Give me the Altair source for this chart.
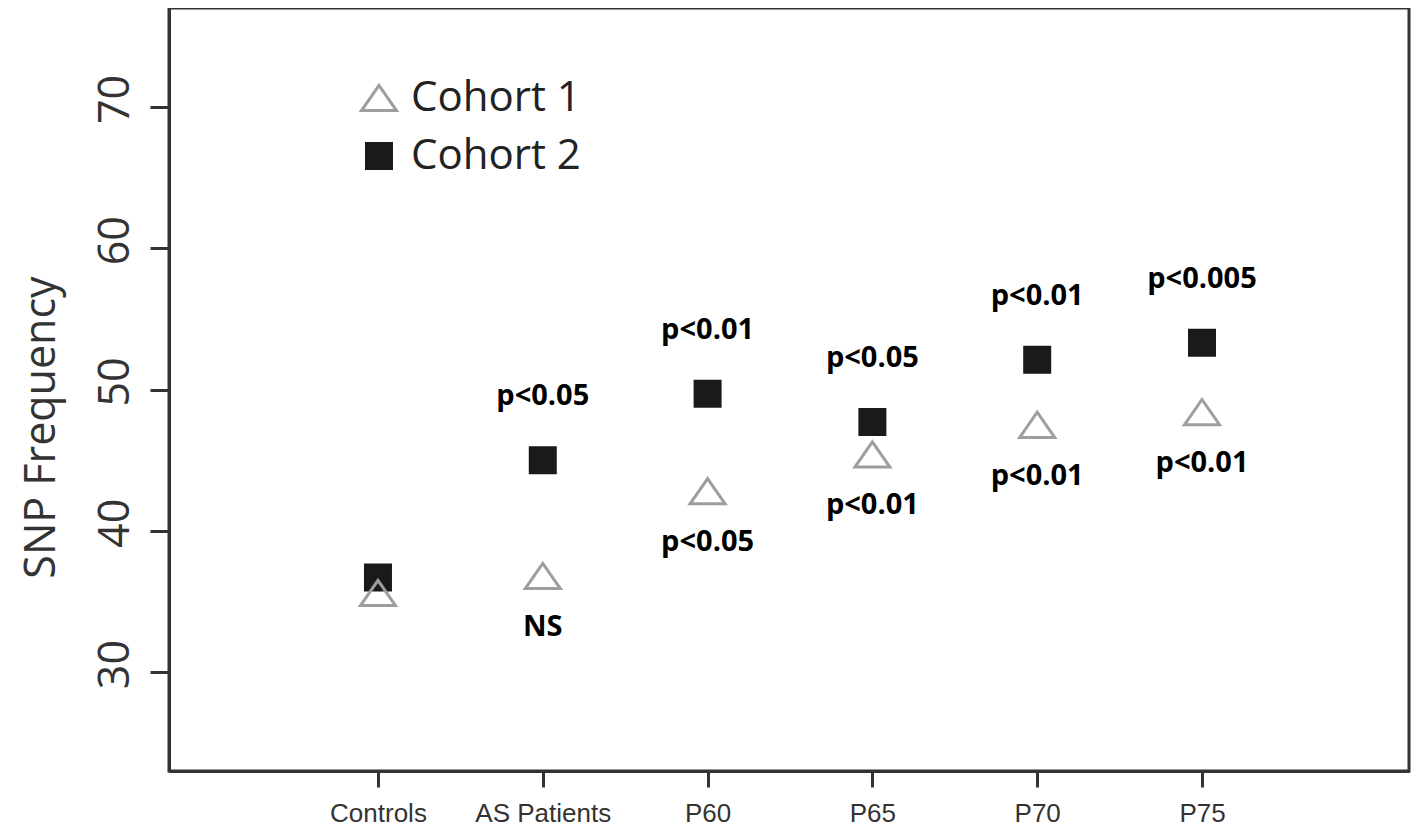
import json
import altair as alt
import pandas as pd

categories = ["Controls", "AS Patients", "P60", "P65", "P70", "P75"]
cohort1 = [35.6, 36.8, 42.8, 45.4, 47.5, 48.4]
cohort2 = [36.7, 45.0, 49.7, 47.7, 52.1, 53.3]
sig1 = ["", "NS", "p<0.05", "p<0.01", "p<0.01", "p<0.01"]
sig2 = ["", "p<0.05", "p<0.01", "p<0.05", "p<0.01", "p<0.005"]
y_ticks = [30, 40, 50, 60, 70]
series = ["Cohort 1", "Cohort 2"]

rows = []
for i, c in enumerate(categories):
    rows.append({"idx": i, "cat": c, "cohort": "Cohort 2", "value": cohort2[i], "sig": sig2[i]})
for i, c in enumerate(categories):
    rows.append({"idx": i, "cat": c, "cohort": "Cohort 1", "value": cohort1[i], "sig": sig1[i]})
df = pd.DataFrame(rows)

tri = "M0,-0.72L-1,0.72L1,0.72Z"
label_expr = json.dumps(categories) + "[datum.value]"

xenc = alt.X(
    "idx:Q",
    scale=alt.Scale(domain=[-1.268, 6.256], nice=False, zero=False),
    axis=alt.Axis(values=list(range(len(categories))), labelExpr=label_expr, title=None, grid=False,
                  labelFont="Liberation Sans", labelFontSize=26, labelColor="#333333",
                  labelBaseline="alphabetic",
                  tickSize=16, tickWidth=3, tickColor="#333333", labelPadding=34,
                  domainColor="#333333", domainWidth=3, labelFlush=False),
)
yenc = alt.Y(
    "value:Q",
    scale=alt.Scale(domain=[23, 77], nice=False, zero=False),
    axis=alt.Axis(values=y_ticks, title="SNP Frequency", grid=False,
                  labelFont="Open Sans", labelFontSize=43, labelColor="#333333",
                  labelAngle=270, labelAlign="center", labelBaseline="alphabetic",
                  labelPadding=22, labelOffset=-8, tickSize=19, tickWidth=3, tickColor="#333333",
                  domainColor="#333333", domainWidth=3,
                  titleFont="Open Sans", titleFontSize=43, titleFontWeight="normal",
                  titleColor="#333333", titleAngle=270, titleAlign="center",
                  titleBaseline="alphabetic", titleX=-115, titleY=419, labelFlush=False),
)

leg = alt.Legend(title=None, orient="none", legendX=189, legendY=69,
                 labelFont="Open Sans", labelFontSize=42, labelColor="#222222", labelLimit=0,
                 symbolStrokeWidth=3, rowPadding=16, labelOffset=11, padding=0,
                 symbolOpacity=1)

points = alt.Chart(df).mark_point(strokeWidth=3, opacity=1).encode(
    x=xenc,
    y=yenc,
    shape=alt.Shape("cohort:N", scale=alt.Scale(domain=series, range=[tri, "square"]), legend=leg),
    fill=alt.Fill("cohort:N", scale=alt.Scale(domain=series, range=["transparent", "#1a1a1a"]), legend=leg),
    stroke=alt.Stroke("cohort:N", scale=alt.Scale(domain=series, range=["#9e9e9e", "#1a1a1a"]), legend=leg),
    size=alt.Size("cohort:N", scale=alt.Scale(domain=series, range=[1225, 625]), legend=leg),
)

base = alt.Chart(df).transform_filter("datum.sig != ''")
text_font = dict(font="Open Sans", fontSize=29, fontWeight="bold", color="#000000", baseline="middle", align="center")
t2 = base.transform_filter("datum.cohort == 'Cohort 2'").mark_text(dy=-64, **text_font).encode(
    x=alt.X("idx:Q"), y=alt.Y("value:Q"), text="sig:N")
t1 = base.transform_filter("datum.cohort == 'Cohort 1'").mark_text(dy=51, **text_font).encode(
    x=alt.X("idx:Q"), y=alt.Y("value:Q"), text="sig:N")

chart = alt.layer(points, t2, t1).properties(
    width=1240, height=763,
    autosize=alt.AutoSizeParams(type="none"),
    padding={"left": 161, "top": 0, "right": 2, "bottom": 56},
).configure_view(stroke="#333333", strokeWidth=3)

chart.save("out.html", embed_options={"renderer": "svg", "actions": False})
